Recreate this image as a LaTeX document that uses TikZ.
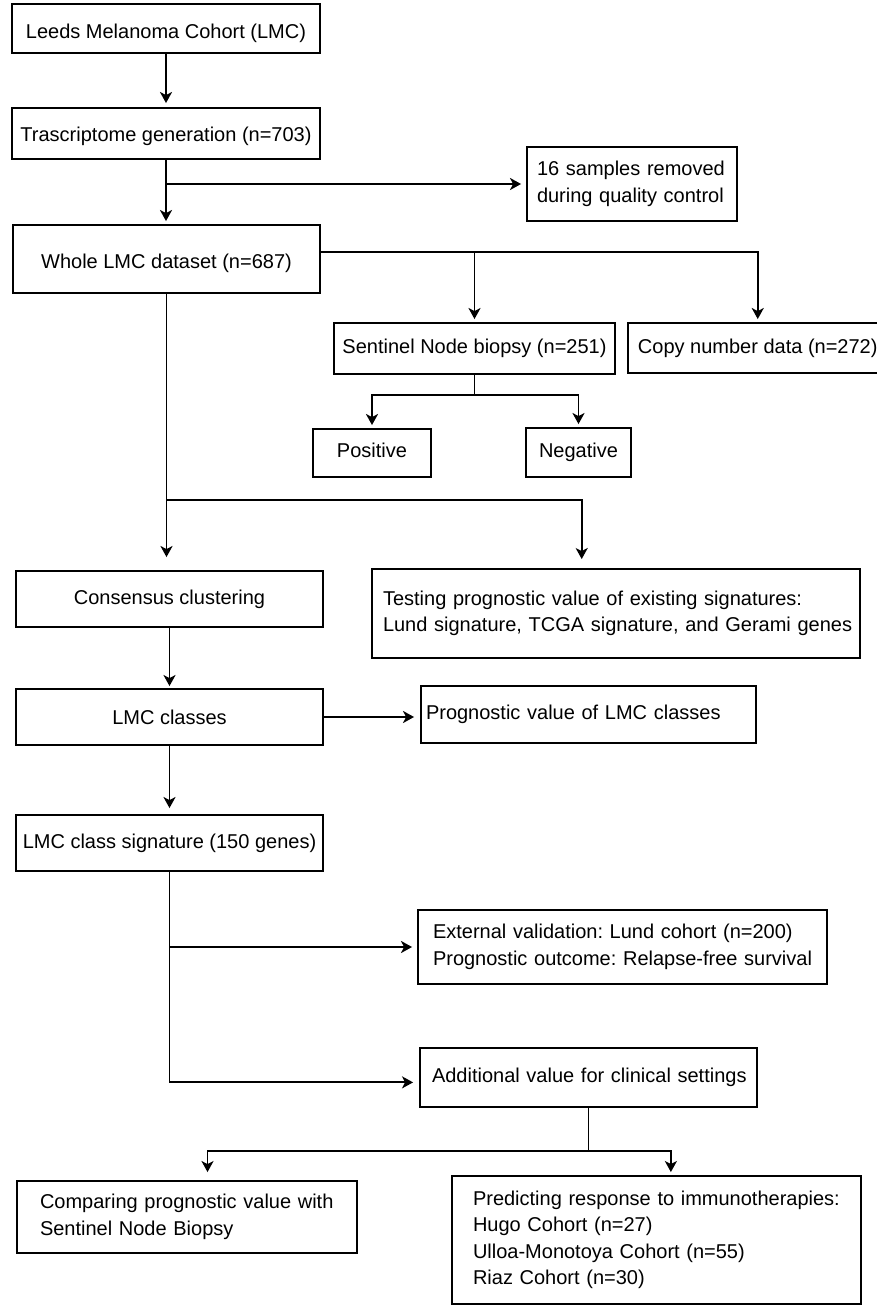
\documentclass[tikz,border=0pt]{standalone}
\usepackage{fontspec}
\setmainfont{Liberation Sans}
\usetikzlibrary{arrows.meta,calc}
\newcommand{\oneline}[1]{\mbox{#1}}
\begin{document}
\begin{tikzpicture}[x=1pt,y=-1pt,
  box/.style={draw, line width=1.9pt, inner sep=0pt, font=\fontsize{20}{26.5}\selectfont\frenchspacing, align=center},
  lbox/.style={box, align=left},
  ln/.style={line width=1.9pt},
  arr/.style={line width=1.9pt, -{Stealth[length=11pt,width=12pt,inset=3pt]}}]
\useasboundingbox (0,0) rectangle (877,1306);
\fill[white] (0,0) rectangle (877,1306);

% nodes
\node[box, minimum width=308pt, minimum height=49pt, text height=24pt, text depth=4.2pt] (lmc) at (166,28.5) {Leeds Melanoma Cohort (LMC)};
\node[box, minimum width=308pt, minimum height=51pt, text height=20pt, text depth=4.2pt] (trans) at (166,133.5) {Trascriptome generation (n=703)};
\node[lbox, text width=190pt, inner xsep=10pt, minimum height=74pt] (qc) at (632,184) {\oneline{16 samples removed}\\\oneline{during quality control}};
\node[box, minimum width=307pt, minimum height=68pt, text height=24pt, text depth=4.2pt] (whole) at (166.5,259) {Whole LMC dataset (n=687)};
\node[box, minimum width=281pt, minimum height=51pt] (snb) at (474.5,348.5) {Sentinel Node biopsy (n=251)};
\node[box, anchor=west, inner xsep=10pt, minimum height=50pt] (copy) at (627,348) {Copy number data (n=272)};
\node[box, minimum width=118pt, minimum height=48pt, text depth=5pt] (pos) at (372,453) {Positive};
\node[box, minimum width=105pt, minimum height=49pt, text depth=5pt] (neg) at (578.5,452.5) {Negative};
\node[box, minimum width=307pt, minimum height=56pt] (cons) at (169.5,599) {Consensus clustering};
\node[lbox, text width=466pt, inner xsep=11pt, minimum height=89pt] (test) at (616,613.5) {\oneline{Testing prognostic value of existing signatures:}\\\oneline{Lund signature, TCGA signature, and Gerami genes}};
\node[box, minimum width=307pt, minimum height=56pt] (cls) at (169.5,717) {LMC classes};
\node[lbox, text width=325pt, inner xsep=5pt, minimum height=57pt] (prog) at (588.5,714.5) {\oneline{Prognostic value of LMC classes}};
\node[box, minimum width=307pt, minimum height=56pt] (sig) at (169.5,843) {LMC class signature (150 genes)};
\node[lbox, text width=379pt, inner xsep=15pt, minimum height=74pt] (ext) at (622.5,947) {\oneline{External validation: Lund cohort (n=200)}\\\oneline{Prognostic outcome: Relapse-free survival}};
\node[lbox, text width=313pt, inner xsep=12pt, minimum height=59pt] (add) at (588.5,1077.5) {\oneline{Additional value for clinical settings}};
\node[lbox, text width=294pt, inner xsep=23pt, minimum height=72pt] (cmp) at (187,1217) {\oneline{Comparing prognostic value with}\\\oneline{Sentinel Node Biopsy}};
\node[lbox, text width=367pt, inner xsep=21pt, minimum height=128pt] (pred) at (656.5,1240) {\oneline{Predicting response to immunotherapies:}\\Hugo Cohort (n=27)\\Ulloa-Monotoya Cohort (n=55)\\Riaz Cohort (n=30)};

% connectors
\draw[arr, shorten >=4pt] (lmc.south) -- (trans.north);
\draw[arr, shorten >=3pt] (trans.south) -- (trans.south |- whole.north);
\draw[arr, shorten >=5pt] (trans.south |- qc.west) -- (qc.west);

\coordinate (wR) at ($(whole.north east)!0.4!(whole.south east)$);
\draw[arr, shorten >=3pt] (wR) -| (copy.north);
\draw[arr, shorten >=3pt] (snb.north |- wR) -- (snb.north);

\coordinate (sj) at ($(snb.south)+(0,20)$);
\draw[ln] (snb.south) -- (sj);
\draw[arr, shorten >=3pt] (sj) -| (pos.north);
\draw[arr, shorten >=3pt] (sj) -| (neg.north);

\draw[arr, shorten >=13pt] (whole.south) -- (whole.south |- cons.north);
\coordinate (bj) at ($(whole.south)+(0,206)$);
\coordinate (tin) at ($(test.north west)!0.43!(test.north east)$);
\draw[arr, shorten >=9pt] (bj) -| (tin);

\draw[arr, shorten >=2pt] (cons.south) -- (cls.north);
\draw[arr, shorten >=6pt] (cls.east) -- (cls.east -| prog.west);
\draw[arr, shorten >=6pt] (cls.south) -- (sig.north);

\coordinate (ain) at ($(add.north west)!0.58!(add.south west)$);
\draw[arr, shorten >=6pt] (sig.south) |- (ain);
\draw[arr, shorten >=5pt] (sig.south |- ext.west) -- (ext.west);

\coordinate (aj) at ($(add.south)+(0,43)$);
\draw[ln] (add.south) -- (aj);
\coordinate (cin) at ($(cmp.north west)!0.56!(cmp.north east)$);
\coordinate (pin) at ($(pred.north west)!0.535!(pred.north east)$);
\draw[arr, shorten >=8pt] (aj) -| (cin);
\draw[arr, shorten >=3pt] (aj) -| (pin);
\end{tikzpicture}
\end{document}
